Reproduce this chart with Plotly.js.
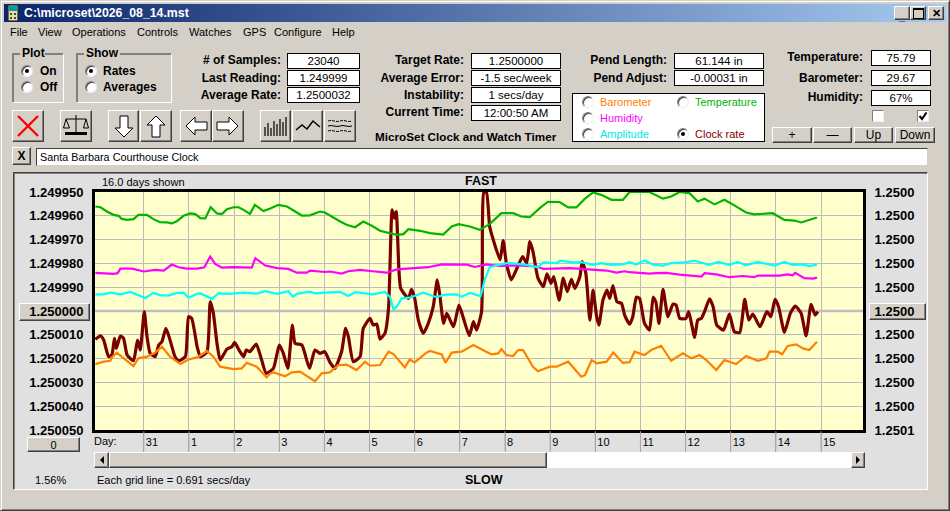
<!DOCTYPE html>
<html><head><meta charset="utf-8">
<script src="https://cdn.plot.ly/plotly-3.0.1.min.js"></script>
<style>
html,body{margin:0;padding:0;background:#d4d0c8;overflow:hidden}
#win{position:absolute;left:0;top:0;width:950px;height:511px;background:#d4d0c8;font-family:"Liberation Sans",Arial,sans-serif;font-size:11px;color:#000;overflow:hidden}
#win div{position:absolute;box-sizing:border-box;white-space:nowrap}
#chart{position:absolute;left:0;top:0;width:950px;height:511px}
.btn{background:#d4d0c8;border:1px solid;border-color:#fff #404040 #404040 #fff;box-shadow:inset -1px -1px 0 #808080;display:flex;align-items:center;justify-content:center}
.val{background:#fff;border:1px solid #000;text-align:center;line-height:15px;font-size:11.5px}
.lab{font-weight:bold;font-size:12px;text-align:right}
.grp{border:1px solid;border-color:#808080 #fff #fff #808080;box-shadow:1px 1px 0 #808080 inset,0 0 0 0 #fff;}
.radio{width:12px;height:12px;border-radius:50%;background:#fff;border:1px solid;border-color:#808080 #eee #eee #808080;box-shadow:inset 1px 1px 0 #404040}
.radio.on::after{content:"";position:absolute;left:3px;top:3px;width:4px;height:4px;border-radius:50%;background:#000}
</style></head><body>
<div id="win"></div>
<div id="chart"></div>
<script>
// ---- chart data (rate offsets from 1.25, in millionths) ----
const clockDays = [-1.075,-0.96,-0.89,-0.78,-0.71,-0.65,-0.61,-0.52,-0.45,-0.37,-0.23,-0.14,-0.08,0.01,0.07,0.14,0.25,0.33,0.40,0.49,0.58,0.69,0.77,0.92,0.99,1.06,1.18,1.25,1.40,1.47,1.54,1.62,1.69,1.84,1.95,2.01,2.13,2.21,2.27,2.35,2.49,2.61,2.71,2.87,3.0,3.09,3.19,3.29,3.35,3.50,3.67,3.79,3.90,4.01,4.12,4.23,4.38,4.47,4.53,4.64,4.79,4.86,5.01,5.08,5.16,5.23,5.34,5.42,5.50,5.55,5.59,5.65,5.69,5.86,5.93,6.0,6.08,6.19,6.30,6.41,6.50,6.56,6.64,6.71,6.86,6.98,7.08,7.21,7.30,7.37,7.48,7.50,7.53,7.59,7.66,7.74,7.89,7.96,8.03,8.14,8.25,8.39,8.48,8.55,8.62,8.73,8.85,8.93,9.02,9.08,9.20,9.29,9.38,9.47,9.55,9.66,9.71,9.79,9.88,9.95,10.03,10.08,10.17,10.26,10.32,10.39,10.48,10.58,10.65,10.76,10.83,10.91,10.98,11.09,11.20,11.28,11.34,11.41,11.50,11.61,11.72,11.79,11.87,12.01,12.07,12.2,12.27,12.35,12.42,12.53,12.61,12.69,12.84,12.97,13.08,13.2,13.31,13.40,13.49,13.65,13.80,13.89,13.98,14.06,14.19,14.32,14.43,14.56,14.67,14.78,14.87,14.93];
const clockRate = [11.9,10.4,12.2,19.2,18.5,11.5,15.7,10.5,11.5,18.5,20.9,12.2,16.4,0.3,10.8,17.8,19.2,14.3,12.9,7.3,12.2,19.2,20.9,19.2,2.4,3.1,15,19.2,17.1,-3.9,1,13.6,20.6,16,15,13.2,17.1,19.2,16.4,17.1,13.9,20.6,26.2,24.1,14.3,17.8,24.1,5.9,13.6,14.3,24.1,16.4,17.8,17.1,21.5,24.1,17.1,7.3,10.8,21.3,19.2,7.3,3.1,5.9,5.5,11.8,9.4,-1.1,-42.5,-39,-41.8,-17.3,-9.5,-5.3,-9.1,-5.3,3.8,9.4,5.2,-1.8,-13.1,-6,5.2,1,6.6,-2.5,3.1,10.4,4.5,8,0.3,-36.2,-49.8,-49.8,-35.5,-29.9,-21.5,-29.6,-20.1,-13.1,-17.3,-22.9,-20.1,-29.2,-25,-13.8,-10.2,-15.6,-11.6,-14.5,-4.6,-13.8,-8.1,-13.3,-9.5,-14.5,-20.8,-15.9,3.8,-8.8,2.4,5.9,-4.6,-8.8,-5.3,-10.7,-3.9,-3.2,1.7,5.5,2.4,-5.8,-5.3,5.2,8,-5.8,-3.9,5.2,-9.1,2.4,-2.9,-2.5,3.1,3.1,0.3,11.1,3.8,3.1,0.3,-5.1,-1.8,5.9,8,1.3,8.7,9,-4.9,3.8,1.3,6.6,0.3,2.4,-4.9,-1.8,9,1,-2.1,1,10.4,-2.8,1.7,0.3];

const baroDays = [-1.075,-0.89,-0.74,-0.71,-0.60,-0.49,-0.37,-0.23,-0.12,0.07,0.25,0.40,0.58,0.81,0.99,1.18,1.40,1.54,1.69,1.99,2.17,2.28,2.50,2.72,2.80,2.87,3.13,3.28,3.46,3.65,3.79,3.94,4.12,4.31,4.49,4.71,4.90,5.01,5.23,5.42,5.53,5.78,5.89,6.0,6.26,6.34,6.60,6.68,6.82,7.04,7.30,7.55,7.70,7.85,7.92,8.03,8.18,8.29,8.40,8.62,8.73,8.99,9.14,9.40,9.69,9.77,9.92,10.03,10.25,10.40,10.61,10.76,10.87,11.09,11.24,11.46,11.57,11.68,11.94,12.13,12.31,12.46,12.68,12.86,13.12,13.34,13.6,13.79,13.86,14.04,14.14,14.26,14.45,14.6,14.74,14.91];
const barometer = [22.3,21.3,20.9,19.5,17.5,19.2,20.9,23.2,19.9,19.2,17.5,15,19.2,22.3,20.4,19.5,16.8,19.2,23.4,24.4,24.1,21.8,23.4,27.9,26.2,25.8,27.4,25.8,25.5,27.9,29.5,26.2,25.8,22.7,22.5,24.8,21.3,23,22.7,17.1,18.1,23.7,20.4,21.6,17.5,16.8,18.2,21.8,17.5,17.1,14.3,16.8,18.2,17.8,16,18.5,18.9,16.4,16.4,23.4,25.3,23.4,23.4,21.3,27.6,27,20.6,22,21.3,17.4,21.8,21.5,17.1,18.5,16.4,14.6,17.8,20.9,17.8,19.9,18.5,20.6,24.8,20.6,22.3,18.9,20.9,19.9,17.1,17.1,18.2,14.7,14,15.7,16.4,12.9];

const humidDays = [-1.075,-0.67,-0.58,-0.52,-0.26,0,0.25,0.44,0.62,0.77,0.95,1.18,1.34,1.47,1.58,1.73,1.99,2.39,2.47,2.69,2.95,3.20,3.39,3.61,3.68,4.01,4.12,4.38,4.53,4.79,5.01,5.38,5.60,6.19,6.30,6.60,7.15,7.33,7.59,7.89,8.26,8.70,8.85,9.43,9.66,10.25,10.47,10.65,10.76,11.2,11.35,11.57,11.87,12.35,12.42,12.68,12.97,13.27,13.52,13.6,14.08,14.26,14.37,14.43,14.63,14.82,14.91];
const humidity = [-16,-15.6,-15.9,-17.8,-17.8,-16.6,-17.3,-17,-19.5,-18.4,-17.8,-17.8,-18.4,-22.9,-19.8,-18.2,-18.4,-18.2,-22.2,-19.1,-18,-17.7,-16.1,-16.1,-17,-16.4,-16.6,-15.7,-16.7,-17.3,-16.8,-16.1,-17.5,-18,-18.4,-19.6,-19.5,-18.5,-19.6,-18.9,-19.2,-18.7,-17.7,-18,-17.7,-17,-16.1,-16.7,-16.3,-15.7,-15.9,-16,-15.3,-14.5,-15.9,-15.4,-14.2,-14.7,-14.2,-14.9,-14.9,-15.4,-15,-16,-13.8,-13.6,-14];

const ampDays = [-1.075,-0.89,-0.74,-0.52,-0.30,-0.15,0.03,0.21,0.36,0.54,0.73,0.88,0.99,1.18,1.25,1.51,1.65,1.91,2.21,2.50,2.69,2.95,3.2,3.30,3.39,3.68,3.79,4.12,4.35,4.53,4.68,5.08,5.34,5.45,5.53,5.60,5.71,5.89,6.19,6.48,6.67,6.93,7.04,7.22,7.46,7.55,7.66,7.81,8.07,8.48,8.73,8.85,9.14,9.22,9.51,9.69,9.95,10.13,10.36,10.61,10.76,10.91,11.09,11.28,11.50,11.68,11.98,12.2,12.53,12.72,12.97,13.16,13.34,13.6,13.97,14.19,14.37,14.6,14.74,14.91];
const amplitude = [-7,-7,-7.7,-7,-8,-6.9,-5.5,-7.6,-6.7,-6.5,-7.6,-7.7,-5.6,-7.2,-7.4,-5.1,-7.4,-7.2,-7.7,-7.3,-8.3,-7.2,-8.3,-6,-7.2,-8.1,-7.4,-7.8,-8,-6.3,-7.9,-7,-8,-6,-0.7,-1.8,-5.3,-5.6,-7.7,-5.8,-6.9,-7,-6,-7.6,-6.3,-13,-18.4,-19.1,-20.2,-19.4,-18.4,-20.4,-20.1,-21.2,-20.4,-20.5,-19.4,-20.1,-19.4,-19.6,-20.5,-19.5,-21.2,-19.5,-19.1,-20.1,-20.4,-21.1,-19.4,-20.6,-19.4,-20.6,-19.2,-20.6,-19.1,-20.6,-19.4,-19.6,-18.9,-19.5];

const tempDays = [-1.075,-0.96,-0.82,-0.67,-0.56,-0.49,-0.37,-0.23,-0.12,0.07,0.21,0.36,0.51,0.62,0.73,0.88,1.03,1.14,1.25,1.36,1.48,1.62,1.73,1.84,1.99,2.10,2.21,2.35,2.46,2.65,2.80,2.98,3.17,3.35,3.50,3.68,3.90,4.01,4.12,4.35,4.49,4.68,4.86,5.05,5.23,5.42,5.60,5.75,5.86,6.12,6.34,6.63,6.82,6.97,7.22,7.44,7.66,7.92,8.18,8.36,8.55,8.77,8.95,9.21,9.40,9.58,9.76,9.95,10.13,10.36,10.61,10.76,11.2,11.5,11.68,11.87,12.09,12.27,12.42,12.64,12.86,13.08,13.34,13.52,13.67,13.93,14.19,14.41,14.56,14.74,14.91];
const temperature = [-43.9,-43.6,-41.8,-40.4,-40,-38.7,-38.3,-38.6,-40.4,-40.4,-38.6,-37.3,-37.2,-36.8,-37.7,-40,-41,-40.7,-39,-38.9,-43.6,-41,-40.7,-42.8,-43.6,-43.6,-42.5,-40.8,-44.6,-42,-43.1,-44.6,-43.9,-41.8,-40.1,-40.2,-41.8,-41.4,-40.1,-37.6,-36.2,-35.2,-37.6,-35.8,-33.7,-32.7,-32,-32.3,-34.4,-33.7,-32.7,-32.1,-35.5,-36.5,-35.5,-34.1,-36.5,-41.1,-41.1,-39.7,-39.4,-43.2,-45.9,-45.8,-43.5,-43.5,-47,-49.8,-48.8,-46.7,-46.7,-50,-50,-47.2,-48.1,-50,-49.5,-46,-47.2,-44.8,-46.7,-44.4,-41.4,-40.6,-40.7,-41.1,-38.3,-38,-37.2,-38.3,-39.3];

const yTickOffsets = [-50,-40,-30,-20,-10,0,10,20,30,40,50];
const leftTickLabels = ["1.249950","1.249960","1.249970","1.249980","1.249990","1.250000","1.250010","1.250020","1.250030","1.250040","1.250050"];
const rightTickLabels = ["1.2500","1.2500","1.2500","1.2500","1.2500","1.2500","1.2500","1.2500","1.2500","1.2500","1.2501"];
const dayTicks = [0,1,2,3,4,5,6,7,8,9,10,11,12,13,14,15];
const dayLabels = ["31","1","2","3","4","5","6","7","8","9","10","11","12","13","14","15"];

const FONT = '"Liberation Sans", Arial, sans-serif';
const toRate = o => 1.25 + o * 1e-6;
const L = 94.7, R = 863.5, T = 192.2, B = 429.7;
const px = x => (x - L) / (R - L), py = y => 1 - (y - T) / (B - T);

function tr(name, xs, ys, color, w, yaxis, line) {
  return {type:'scatter', mode:'lines', name, x:xs, y:ys.map(toRate), yaxis,
          line:Object.assign({color, width:w, shape:'linear'}, line||{}), hoverinfo:'skip', showlegend:false};
}
const data = [
  tr('Clock rate', clockDays, clockRate, '#7a0000', 3.2, 'y', {shape:'spline', smoothing:0.5}),
  tr('Barometer', baroDays, barometer, '#ff8000', 2.2, 'y2'),
  tr('Humidity', humidDays, humidity, '#ff00ff', 2.2, 'y2'),
  tr('Amplitude', ampDays, amplitude, '#00ffff', 2.2, 'y2'),
  tr('Temperature', tempDays, temperature, '#00b400', 2.2, 'y2')
];
function note(text, x, y, anchor, size, bold) {
  return {text: bold ? '<b>'+text+'</b>' : text, xref:'paper', yref:'paper', x:px(x), y:py(y), xanchor:anchor, yanchor:'middle',
          showarrow:false, font:{family:FONT, size, color:'#000'}};
}
const yRange = [toRate(50), toRate(-50)];
const dayTickMarks = dayTicks.map(d => ({type:'line', xref:'x', x0:d, x1:d, yref:'paper', y0:py(431), y1:py(450), layer:'above', line:{color:'#a8a8a8', width:1}}));
const layout = {
  width:950, height:511, autosize:false,
  margin:{l:L, r:950-R, t:T, b:511-B, pad:0},
  paper_bgcolor:'rgba(0,0,0,0)', plot_bgcolor:'#ffffcc', showlegend:false,
  font:{family:FONT, size:12, color:'#000'},
  xaxis:{range:[-1.082,15.93], tickmode:'array', tickvals:dayTicks, ticktext:dayLabels,
         showgrid:true, gridcolor:'#bcbcbc', gridwidth:1, zeroline:false,
         showline:true, mirror:true, linecolor:'#000', linewidth:3,
         ticks:'outside', ticklen:19, tickcolor:'#a8a8a8', tickwidth:1,
         ticklabelposition:'outside right', ticklabelstandoff:0, tickfont:{family:FONT,size:11,color:'#000'}},
  yaxis:{range:yRange, tickmode:'array', tickvals:yTickOffsets.map(toRate), ticktext:leftTickLabels,
         showgrid:true, gridcolor:'#bcbcbc', gridwidth:1, zeroline:false,
         showline:true, mirror:true, linecolor:'#000', linewidth:3,
         ticks:'outside', ticklen:6, tickcolor:'rgba(0,0,0,0)', tickfont:{family:FONT,size:13,color:'#000',weight:'bold'}},
  yaxis2:{range:yRange, overlaying:'y', side:'right', tickmode:'array', tickvals:yTickOffsets.map(toRate), ticktext:rightTickLabels,
          showgrid:false, zeroline:false, showline:false,
          ticks:'outside', ticklen:8, tickcolor:'rgba(0,0,0,0)', tickfont:{family:FONT,size:13,color:'#000',weight:'bold'}},
  shapes:[{type:'line', xref:'paper', x0:0, x1:1, yref:'y', y0:toRate(0), y1:toRate(0), layer:'below', line:{color:'#c0c0c0', width:2.5}}].concat(dayTickMarks),
  annotations:[
    note('16.0 days shown', 99.5, 182, 'left', 11, false),
    note('FAST', 481, 181, 'center', 12.5, true),
    note('SLOW', 484, 480, 'center', 12.5, true),
    note('Day:', 92, 441, 'left', 11, false),
    note('1.56%', 32.5, 480, 'left', 11, false),
    note('Each grid line = 0.691 secs/day', 95, 480, 'left', 11, false)
  ]
};

// ---- window chrome ----
const win = document.getElementById('win');
function el(cls, x, y, w, h, html, style) {
  const d = document.createElement('div');
  d.className = cls; d.style.cssText = `left:${x}px;top:${y}px;width:${w}px;height:${h}px;` + (style||'');
  d.innerHTML = html||''; win.appendChild(d); return d;
}
function text(s, x, y, style){ return el('', x, y-8, 0, 16, s, 'line-height:16px;width:auto;'+(style||'')); }
function labelR(s, xEnd, y){ return el('lab', xEnd-200, y-8, 200, 16, s, 'line-height:16px;'); }
function val(s, x0, y0, x1, y1){ return el('val', x0, y0, x1-x0, y1-y0, s); }
function radio(x,y,on){ return el('radio'+(on?' on':''), x-6, y-6, 12, 12); }
function btn(x0,y0,x1,y1,html,style){ return el('btn', x0,y0,x1-x0,y1-y0,html,style); }

el('',0,0,950,511,'','border:1px solid;border-color:#d4d0c8 #404040 #404040 #d4d0c8;box-shadow:inset 1px 1px 0 #fff,inset -1px -1px 0 #808080;');
el('',4,4,942,18,'','background:linear-gradient(90deg,#0a246a,#a6caf0);');
el('',8,5,10,16,'<svg width="10" height="16"><rect width="10" height="16" fill="#e8e0a0" stroke="#000"/><rect x="1" y="1" width="8" height="5" fill="#00a0a0"/><g fill="#444"><rect x="2" y="8" width="2" height="2"/><rect x="6" y="8" width="2" height="2"/><rect x="2" y="12" width="2" height="2"/><rect x="6" y="12" width="2" height="2"/></g></svg>');
el('',24,5,400,16,'C:\\microset\\2026_08_14.mst','color:#fff;font-weight:bold;font-size:12.3px;line-height:16px;');
btn(894,6,910,20,'<span style="margin-top:8px;font-weight:bold;line-height:1;font-size:10px">_</span>');
btn(910,6,926,20,'<span style="width:9px;height:8px;border:1px solid #000;border-top-width:2px"></span>');
btn(928,6,944,20,'<span style="font-weight:bold;font-size:11px">✕</span>');
[['File',10],['View',38],['Operations',72],['Controls',137],['Watches',189],['GPS',243],['Configure',274],['Help',332]].forEach(m=>text(m[0],m[1],32,'font-size:11px;'));

// groups
el('grp',12,53,52,50); el('grp',76,53,96,50);
el('',20,46,25,14,'Plot','background:#d4d0c8;font-weight:bold;font-size:12px;line-height:14px;padding:0 2px;');
el('',84,46,36,14,'Show','background:#d4d0c8;font-weight:bold;font-size:12px;line-height:14px;padding:0 2px;');
radio(27,71,true); radio(27,87,false); radio(91,71,true); radio(91,87,false);
text('On',40,71,'font-weight:bold;font-size:12px;'); text('Off',40,87,'font-weight:bold;font-size:12px;');
text('Rates',103,71,'font-weight:bold;font-size:12px;'); text('Averages',103,87,'font-weight:bold;font-size:12px;');

labelR('# of Samples:',281,60); labelR('Last Reading:',281,78); labelR('Average Rate:',281,95);
val('23040',287,53,360,69); val('1.249999',287,70,360,86); val('1.2500032',287,87,360,103);
labelR('Target Rate:',464,60); labelR('Average Error:',464,78); labelR('Instability:',464,95); labelR('Current Time:',464,112);
val('1.2500000',471,53,561,69); val('-1.5 sec/week',471,70,561,86); val('1 secs/day',471,87,561,103); val('12:00:50 AM',471,105,561,121);
labelR('Pend Length:',667,60); labelR('Pend Adjust:',667,78);
val('61.144 in',674,53,764,69); val('-0.00031 in',674,70,764,86);
labelR('Temperature:',863,57); labelR('Barometer:',863,78); labelR('Humidity:',863,97);
val('75.79',871,50,931,66); val('29.67',871,70,931,86); val('67%',871,90,931,106);
el('',375,129,190,16,'MicroSet Clock and Watch Timer','font-weight:bold;font-size:11.7px;line-height:16px;');

// legend box
el('',572,93,193,49,'','background:#fff;border:1px solid #000;');
[['Barometer','#ff8000',588,102,false],['Temperature','#00b400',683,102,false],['Humidity','#ff00ff',588,118,false],['Amplitude','#00e8e8',588,134,false],['Clock rate','#7f0000',683,134,true]].forEach(r=>{
  radio(r[2],r[3],r[4]); text(r[0],r[2]+12,r[3],'color:'+r[1]+';font-size:11px;');
});
// checkboxes
el('',872,110,12,12,'','background:#fff;border:1px solid;border-color:#808080 #eee #eee #808080;');
el('',917,110,12,12,'<svg width="10" height="10" style="display:block"><path d="M1.5 5 L4 8 L8.5 1.5" fill="none" stroke="#000" stroke-width="2"/></svg>','background:#fff;border:1px solid;border-color:#808080 #eee #eee #808080;');
[['+',772,812],['—',813,852],['Up',854,893],['Down',895,935]].forEach(b=>btn(b[1],127,b[2],143,b[0],'font-size:12px;'));

// toolbar
const arrow = d => `<svg width="26" height="26" viewBox="0 0 26 26"><path d="${d}" fill="#fff" stroke="#000" stroke-width="1"/></svg>`;
btn(12,110,44,142,'<svg width="26" height="26"><path d="M3 3 L23 23 M23 3 L3 23" stroke="#f00" stroke-width="2.4"/></svg>');
btn(60,110,92,142,'<svg width="26" height="24" viewBox="0 0 26 24"><g fill="none" stroke="#000"><path d="M13 1 V18 M3 5 H23 M3 5 L0.5 14 H6.5 Z M23 5 L20.5 14 H25.5 Z"/></g><rect x="2" y="18" width="22" height="3" fill="#000"/></svg>');
btn(108,110,139,142,arrow('M9 3 H17 V15 H22 L13 24 L4 15 H9 Z'));
btn(140,110,172,142,arrow('M9 24 H17 V12 H22 L13 3 L4 12 H9 Z'));
btn(180,110,212,142,arrow('M24 9 V17 H12 V22 L3 13 L12 4 V9 Z'));
btn(212,110,244,142,arrow('M2 9 V17 H14 V22 L23 13 L14 4 V9 Z'));
btn(260,110,291,142,'<svg width="24" height="22"><path d="M1 21 V12 M4 21 V8 M7 21 V13 M10 21 V6 M13 21 V9 M16 21 V4 M19 21 V7 M22 21 V2" stroke="#000" stroke-width="1.2"/></svg>');
btn(292,110,323,142,'<svg width="26" height="16"><path d="M1 12 L7 7 L12 11 L18 3 L25 9" stroke="#000" stroke-width="1.5" fill="none"/></svg>');
btn(324,110,356,142,'<svg width="26" height="16"><g stroke="#000" fill="none"><path d="M1 3 q3 -1 6 0 t6 0 t6 0 t6 0" stroke-dasharray="3 1"/><path d="M1 8 q3 -1 6 0 t6 0 t6 0 t6 0"/><path d="M1 13 q3 -1 6 0 t6 0 t6 0 t6 0" stroke-dasharray="3 1"/></g></svg>');

// name row
btn(12,147,31,165,'<b style="font-size:12px">X</b>');
el('',36,148,892,18,'Santa Barbara Courthouse Clock','background:#fff;border:1px solid;border-color:#404040 #d4d0c8 #d4d0c8 #404040;padding-left:3px;line-height:16px;font-size:10.8px;');

// chart panel
el('',13,172,915,318,'','background:#e0e0e0;border:1px solid;border-color:#404040 #fff #fff #404040;box-shadow:inset 1px 1px 0 #808080;');
btn(19,303,90,321,'');
btn(869,303,926,320,'');
btn(27,437,80,452,'0','font-size:11px;');
// scrollbar
el('',94,452,771,16,'','background:#d4d0c8;');
el('',547,452,304,16,'','background:#fff;');
btn(94,452,109,468,'<svg width="6" height="8"><path d="M5 0 V8 L1 4 Z" fill="#000"/></svg>');
btn(109,452,547,468,'');
btn(851,452,865,468,'<svg width="6" height="8"><path d="M1 0 V8 L5 4 Z" fill="#000"/></svg>');

Plotly.newPlot('chart', data, layout, {displayModeBar:false, staticPlot:true});
</script></body></html>
